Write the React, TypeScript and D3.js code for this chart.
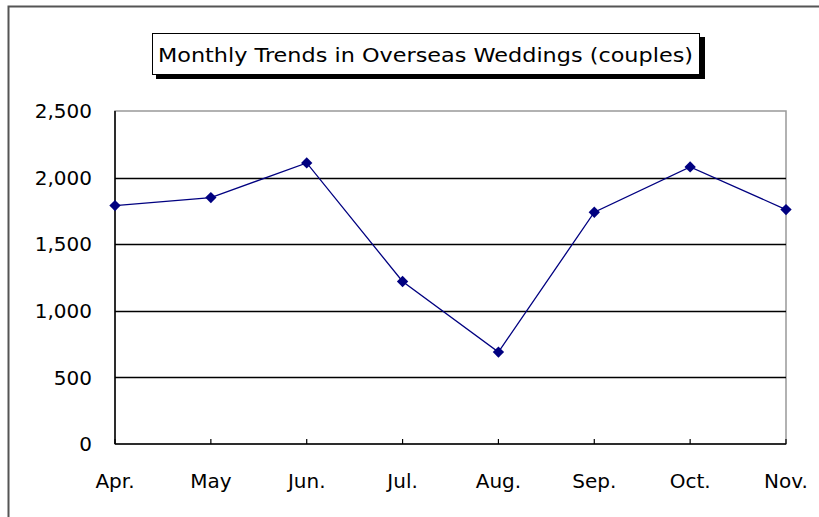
import React from "react";
import * as d3 from "d3";

const months = ["Apr.", "May", "Jun.", "Jul.", "Aug.", "Sep.", "Oct.", "Nov."];
const couples = [1790, 1850, 2110, 1220, 690, 1740, 2080, 1760];
const yTicks = [0, 500, 1000, 1500, 2000, 2500];
const titleText = "Monthly Trends in Overseas Weddings (couples)";

export default function App() {
  const W = 819, H = 517;
  const left = 115, right = 786, top = 111, bottom = 444;
  const x = d3.scalePoint<string>().domain(months).range([left, right]);
  const y = d3.scaleLinear().domain([0, 2500]).range([bottom, top]);
  const line = d3.line<number>()
    .x((_, i) => x(months[i]) as number)
    .y((d) => y(d));
  const font = "'DejaVu Sans', 'Noto Sans', sans-serif";
  const marker = d3.symbol().type(d3.symbolSquare).size(64)() || "";

  return (
    <svg width={W} height={H} style={{ position: "absolute", left: 0, top: 0, display: "block" }}>
      <rect x={0} y={0} width={W} height={H} fill="#ffffff" />
      {/* outer chart border */}
      <rect x={8.5} y={6.5} width={W + 10} height={H + 10} fill="none" stroke="#555" strokeWidth={2} />
      {/* title box */}
      <rect x={156} y={37} width={549} height={42} fill="#000" />
      <rect x={152.5} y={33.5} width={547} height={41} fill="#fff" stroke="#000" strokeWidth={1} />
      <text x={158} y={62} fontFamily={font} fontSize={19} fill="#000"
        textLength={535} lengthAdjust="spacingAndGlyphs">{titleText}</text>
      {/* plot area border (gray) */}
      <rect x={left} y={top} width={right - left} height={bottom - top} fill="none" stroke="#999" strokeWidth={1.5} />
      {/* gridlines */}
      {yTicks.filter((t) => t > 0 && t < 2500).map((t) => (
        <line key={t} x1={left} x2={right} y1={Math.round(y(t)) + 0.5} y2={Math.round(y(t)) + 0.5} stroke="#000" strokeWidth={1.3} />
      ))}
      {/* axes */}
      <line x1={left} x2={left} y1={top} y2={bottom} stroke="#000" strokeWidth={1.5} />
      <line x1={left} x2={right} y1={bottom} y2={bottom} stroke="#000" strokeWidth={1.5} />
      {months.map((m) => (
        <line key={m} x1={x(m)} x2={x(m)} y1={bottom} y2={bottom - 5} stroke="#000" strokeWidth={1.2} />
      ))}
      {/* y labels */}
      {yTicks.map((t) => (
        <text key={t} x={92} y={y(t)} dy="0.36em" textAnchor="end" fontFamily={font} fontSize={20} fill="#000">
          {d3.format(",")(t)}
        </text>
      ))}
      {/* x labels */}
      {months.map((m) => (
        <text key={m} x={x(m)} y={488} textAnchor="middle" fontFamily={font} fontSize={20} fill="#000">
          {m}
        </text>
      ))}
      {/* series */}
      <path d={line(couples) || ""} fill="none" stroke="#000080" strokeWidth={1.3} />
      {couples.map((v, i) => (
        <path key={i} d={marker}
          transform={`translate(${x(months[i])},${y(v)}) rotate(45)`} fill="#000080" />
      ))}
    </svg>
  );
}
